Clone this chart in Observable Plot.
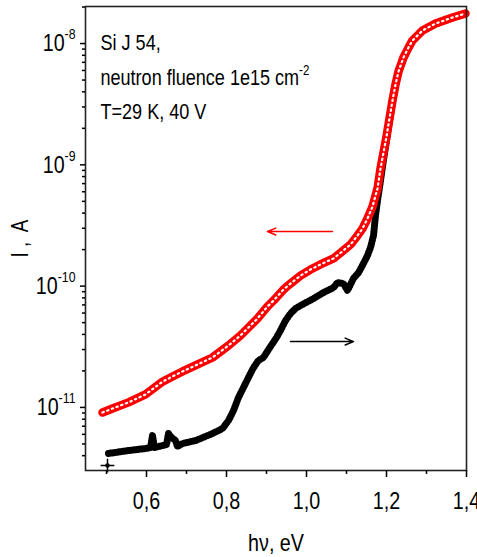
<!DOCTYPE html>
<html><head><meta charset="utf-8">
<script src="https://cdn.jsdelivr.net/npm/d3@7"></script>
<script src="https://cdn.jsdelivr.net/npm/@observablehq/plot@0.6"></script>
<style>
body{margin:0;background:#fff;}
#chart svg{font-family:"Liberation Sans Narrow","Arial Narrow","Liberation Sans",Arial,sans-serif;}
</style></head><body><div id="chart"></div>
<script>
// Red series: current I (A), open circles
const redEnergy = [0.49,0.515,0.555,0.5975,0.64,0.665,0.69,0.7225,0.765,0.805,0.835,0.86,0.8775,0.9025,0.9175,0.9425,0.96,0.985,1.01,1.035,1.0675,1.0925,1.11,1.1275,1.14,1.1525,1.165,1.1775,1.185,1.1925,1.2,1.2075,1.215,1.2225,1.23,1.2425,1.255,1.265,1.29,1.3225,1.365,1.3975];
const redCurrent = [9.08e-12,9.79e-12,1.10e-11,1.28e-11,1.63e-11,1.80e-11,1.98e-11,2.22e-11,2.58e-11,3.24e-11,3.92e-11,4.73e-11,5.41e-11,6.79e-11,7.60e-11,9.37e-11,1.05e-10,1.22e-10,1.37e-10,1.51e-10,1.69e-10,1.97e-10,2.20e-10,2.61e-10,2.98e-10,3.61e-10,4.53e-10,6.38e-10,9.31e-10,1.26e-9,1.71e-9,2.41e-9,3.39e-9,4.59e-9,5.88e-9,7.67e-9,9.27e-9,1.06e-8,1.28e-8,1.46e-8,1.64e-8,1.77e-8];
// Black series: crosses
const blackEnergy = [0.505,0.555,0.5975,0.61,0.615,0.62,0.64,0.65,0.655,0.6625,0.6725,0.6775,0.69,0.7225,0.765,0.79,0.805,0.8175,0.83,0.8425,0.855,0.8675,0.88,0.8925,0.905,0.915,0.925,0.935,0.9475,0.96,0.9725,0.985,1.0175,1.0425,1.0675,1.0775,1.0925,1.1025,1.1175,1.13,1.1425,1.1525,1.16,1.1675,1.1725,1.1775,1.185,1.1925,1.2,1.2075,1.215,1.2225,1.23,1.2425,1.255,1.265,1.29,1.3225,1.365,1.3975];
const blackSignal = [4.17e-12,4.41e-12,4.58e-12,4.67e-12,5.86e-12,4.67e-12,4.85e-12,4.94e-12,6.09e-12,5.65e-12,5.33e-12,4.76e-12,5.04e-12,5.33e-12,6.09e-12,6.70e-12,7.80e-12,9.42e-12,1.21e-11,1.46e-11,1.77e-11,2.13e-11,2.44e-11,2.58e-11,3.00e-11,3.36e-11,3.77e-11,4.31e-11,5.20e-11,5.94e-11,6.54e-11,6.92e-11,7.90e-11,8.86e-11,9.73e-11,1.07e-10,1.05e-10,9.2e-11,1.16e-10,1.29e-10,1.54e-10,1.79e-10,2.08e-10,2.61e-10,3.82e-10,5.08e-10,7.4e-10,1.1e-9,1.58e-9,2.3e-9,3.3e-9,4.5e-9,5.78e-9,7.55e-9,9.2e-9,1.05e-8,1.27e-8,1.45e-8,1.63e-8,1.76e-8];
const outlierEnergy = [0.5025];
const outlierSignal = [3.32e-12];

// Axis ticks
const xMajorTicks = [0.6, 0.8, 1.0, 1.2, 1.4];
const xMinorTicks = [0.5, 0.7, 0.9, 1.1, 1.3];
const yMajorTicks = [1e-11, 1e-10, 1e-9, 1e-8];
const yMinorMantissas = [2,3,4,5,6,7,8,9];
const yMinorDecades = [1e-12, 1e-11, 1e-10, 1e-9, 1e-8];

// Annotations
const noteLines = ["Si J 54,", "neutron fluence 1e15 cm|-2", "T=29 K, 40 V"];
const noteEnergy = [0.485, 0.485, 0.485];
const noteLevel = [1.02e-8, 5.2e-9, 2.72e-9];
const arrowFrom = [1.065, 0.96];
const arrowTo = [0.9025, 1.1175];
const arrowLevel = [2.82e-10, 3.49e-11];
const arrowColor = ["#ff0000", "#000000"];
const xTitle = "hν, eV";
const yTitle = "I ,  A";

const red = redEnergy.map((x, i) => ({x, y: redCurrent[i]}));
const black = blackEnergy.map((x, i) => ({x, y: blackSignal[i]}));
const outlier = outlierEnergy.map((x, i) => ({x, y: outlierSignal[i]}));
const notes = noteLines.map((t, i) => ({t, x: noteEnergy[i], y: noteLevel[i]}));
const arrows = arrowFrom.map((x1, i) => ({x1, x2: arrowTo[i], y: arrowLevel[i], c: arrowColor[i]}));
const yMinorTicks = yMinorDecades.flatMap(d => yMinorMantissas.map(m => m * d)).filter(v => v >= 3.02e-12 && v <= 2.02e-8);

const chart = Plot.plot({
  width: 477, height: 557,
  marginLeft: 85, marginRight: 11, marginTop: 6, marginBottom: 87,
  x: {domain: [0.4475, 1.4]},
  y: {type: "log", domain: [3.02e-12, 2.02e-8]},
  style: {fontSize: "24px", color: "#000", background: "#fff", overflow: "visible"},
  marks: [
    Plot.line(black, {x: "x", y: "y", stroke: "#000", strokeWidth: 3.2, strokeLinejoin: "round"}),
    Plot.line(black, {x: "x", y: "y", stroke: "#000", strokeWidth: 7, strokeDasharray: "0.8,2.2"}),
    Plot.dot(outlier, {x: "x", y: "y", symbol: "plus", r: 4.5, stroke: "#000", strokeWidth: 1.5}),
    Plot.dot(outlier, {x: "x", y: "y", r: 2.3, fill: "#000"}),
    Plot.line(red, {x: "x", y: "y", stroke: "#ff0000", strokeWidth: 8.5, strokeLinejoin: "round"}),
    Plot.line(red, {x: "x", y: "y", stroke: "#fff", strokeWidth: 2.2, strokeDasharray: "1.4,3.6"}),
    Plot.arrow(arrows, {x1: "x1", x2: "x2", y1: "y", y2: "y", stroke: "c", strokeWidth: 1.5, headLength: 9, headAngle: 45}),
    Plot.text(notes, {x: "x", y: "y", text: "t", textAnchor: "start", fontSize: 22, lineAnchor: "middle"}),
    Plot.frame({stroke: "#222", strokeWidth: 1.6}),
    Plot.axisX({ticks: xMajorTicks, tickSize: 7, tickPadding: 14, strokeWidth: 1.5, fontSize: 24,
      tickFormat: d => d.toFixed(1).replace(".", ","), label: null}),
    Plot.axisX({ticks: xMinorTicks, tickSize: 4, strokeWidth: 1.5, tickFormat: () => "", label: null}),
    Plot.axisY({ticks: yMajorTicks, tickSize: 5, tickPadding: 5, strokeWidth: 1.5, fontSize: 24,
      tickFormat: d => "10^" + Math.round(Math.log10(d)), label: null}),
    Plot.axisY({ticks: yMinorTicks, tickSize: 3, strokeWidth: 1.5, tickFormat: () => "", label: null}),
    Plot.text([xTitle], {frameAnchor: "bottom", dy: 73, fontSize: 24, lineAnchor: "middle"}),
    Plot.text([yTitle], {frameAnchor: "left", dx: -65, dy: 19, rotate: -90, fontSize: 23, lineAnchor: "middle"})
  ]
});

const NS = "http://www.w3.org/2000/svg";
for (const t of chart.querySelectorAll("text")) {
  const s = t.textContent;
  let sep = s.includes("^") ? "^" : (s.includes("|") ? "|" : null);
  if (!sep) continue;
  const [base, sup] = s.split(sep);
  t.textContent = base;
  const ts = document.createElementNS(NS, "tspan");
  if (sep === "^") { ts.setAttribute("dy", "-12"); ts.setAttribute("font-size", "15"); }
  else { ts.setAttribute("dy", "-10"); ts.setAttribute("font-size", "14"); }
  ts.textContent = sup;
  t.appendChild(ts);
}
document.getElementById("chart").appendChild(chart);
// narrow the glyphs to mimic the condensed face of the original
for (const t of chart.querySelectorAll("text")) {
  const L = t.getComputedTextLength();
  if (L > 0) {
    t.setAttribute("textLength", (L * 0.82).toFixed(1));
    t.setAttribute("lengthAdjust", "spacingAndGlyphs");
  }
}
</script></body></html>
